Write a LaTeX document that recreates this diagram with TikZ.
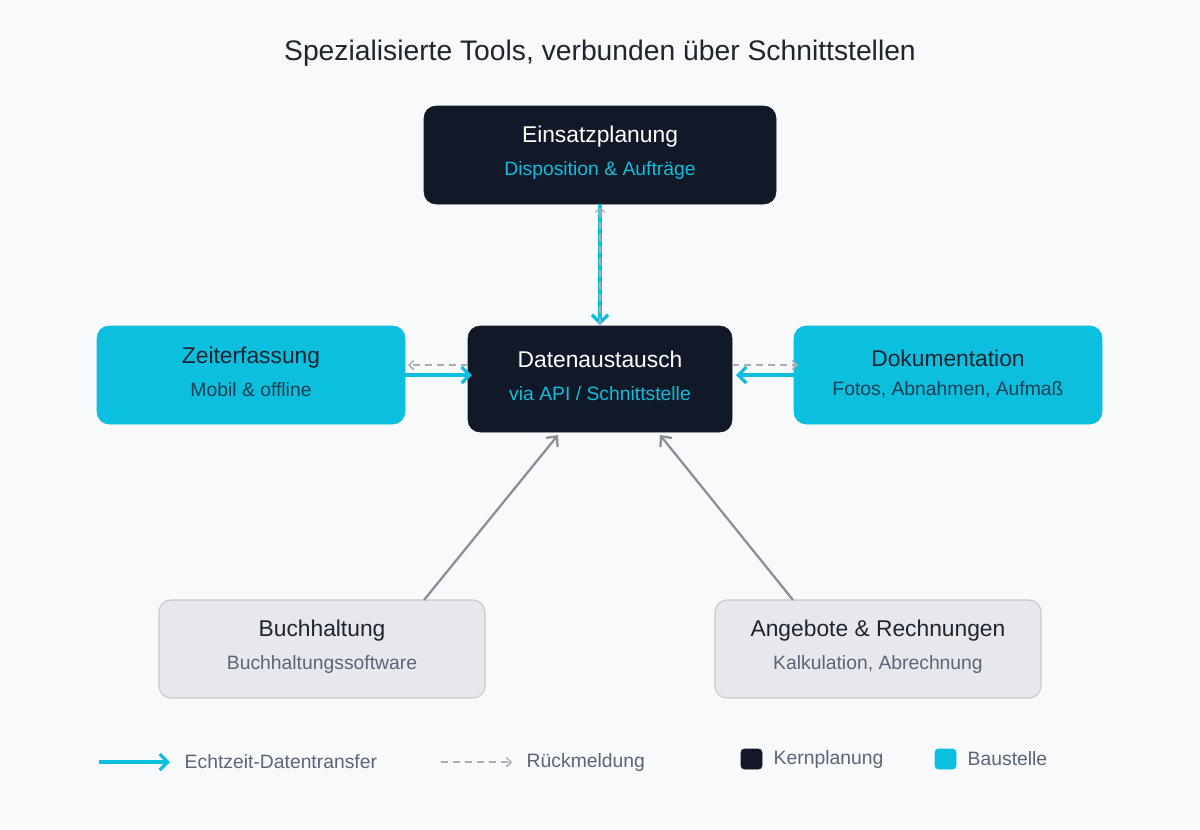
\documentclass[tikz,border=0pt]{standalone}
\usepackage{fontspec}
\setmainfont{Liberation Sans}
\usetikzlibrary{arrows.meta}
\definecolor{bg}{HTML}{F8F9FB}
\definecolor{dark}{HTML}{111827}
\definecolor{cy}{HTML}{0CBFDE}
\definecolor{lg}{HTML}{E7E8EC}
\definecolor{lgb}{HTML}{C6C9D0}
\definecolor{gr}{HTML}{8A8E98}
\definecolor{dg}{HTML}{A9ADB5}
\definecolor{sub}{HTML}{5B6478}
\definecolor{cysub}{HTML}{1E3F52}
\definecolor{ttl}{HTML}{1F2430}
\begin{document}
\begin{tikzpicture}[x=0.75pt,y=-0.75pt,
 box/.style={rounded corners=9pt,inner sep=0pt},
 t1/.style={font=\fontsize{17.1}{19}\selectfont},
 t2/.style={font=\fontsize{14.5}{16}\selectfont},
 cyarrow/.style={draw=cy,line width=2.6pt,-{Straight Barb[length=6pt,width=12pt,line width=2.4pt]}},
 dasharrow/.style={draw=dg,line width=1.1pt,dash pattern=on 5pt off 4pt,-{Straight Barb[length=3.5pt,width=7pt]}},
 grarrow/.style={draw=gr,line width=1.7pt,-{Straight Barb[length=6pt,width=11pt,line width=1.7pt]}}]
\fill[bg] (0,0) rectangle (1200,829);
\useasboundingbox (0,0) rectangle (1200,829);
\node[font=\fontsize{21.2}{24}\selectfont,text=ttl] (title) at (600,53) {Spezialisierte Tools, verbunden über Schnittstellen};
% boxes
\draw[box,fill=dark,draw=dark] (424,106) rectangle (776,204);
\node[t1,text=white] (Et) at (600,137) {Einsatzplanung};
\node[t2,text=cy] (Es) at (600,170) {Disposition \& Aufträge};
\draw[box,fill=dark,draw=dark] (468,326) rectangle (732,432);
\node[t1,text=white] (Dt) at (600,359) {Datenaustausch};
\node[t2,text=cy] (Ds) at (600,394) {via API / Schnittstelle};
\draw[box,fill=cy,draw=cy] (97,326) rectangle (405,424);
\node[t1,text=ttl] (Zt) at (251,358) {Zeiterfassung};
\node[t2,text=cysub] (Zs) at (251,390) {Mobil \& offline};
\draw[box,fill=cy,draw=cy] (794,326) rectangle (1102,424);
\node[t1,text=ttl] (Ot) at (948,358) {Dokumentation};
\node[t2,text=cysub] (Os) at (948,390) {Fotos, Abnahmen, Aufmaß};
\draw[box,fill=lg,draw=lgb,line width=0.8pt] (159,600) rectangle (485,698);
\node[t1,text=ttl] (Bt) at (322,631) {Buchhaltung};
\node[t2,text=sub] (Bs) at (322,664) {Buchhaltungssoftware};
\draw[box,fill=lg,draw=lgb,line width=0.8pt] (715,600) rectangle (1041,698);
\node[t1,text=ttl] (At) at (878,631) {Angebote \& Rechnungen};
\node[t2,text=sub] (As) at (878,664) {Kalkulation, Abrechnung};
% anchor coordinates
\coordinate (Eb) at (600,204); \coordinate (Dtop) at (600,325);
\coordinate (Eb2) at (600,207);
\coordinate (Zr) at (405,375); \coordinate (Dl) at (472,375);
\coordinate (Dl2) at (468,365); \coordinate (Zr2) at (408,365);
\coordinate (Or) at (794,375); \coordinate (Dr) at (736,375);
\coordinate (Dr2) at (732,365); \coordinate (Ol2) at (798,365);
\coordinate (Bn) at (424,600); \coordinate (Dbl) at (558,435);
\coordinate (An) at (793,600); \coordinate (Dbr) at (660,435);
\draw[cyarrow] (Eb) -- (Dtop);
\draw[dasharrow,line width=0.9pt] (Dtop) -- (Eb2);
\draw[dasharrow] (Dl2) -- (Zr2);
\draw[cyarrow] (Zr) -- (Dl);
\draw[dasharrow] (Dr2) -- (Ol2);
\draw[cyarrow] (Or) -- (Dr);
\draw[grarrow] (Bn) -- (Dbl);
\draw[grarrow] (An) -- (Dbr);
% legend
\coordinate (L1a) at (99,762); \coordinate (L1b) at (170,762);
\draw[cyarrow] (L1a) -- (L1b);
\node[t2,text=sub,anchor=west] (L1) at (180,762) {Echtzeit-Datentransfer};
\coordinate (L2a) at (441,762); \coordinate (L2b) at (512,762);
\draw[dasharrow] (L2a) -- (L2b);
\node[t2,text=sub,anchor=west] (L2) at (522,762) {Rückmeldung};
\draw[fill=dark,draw=dark,rounded corners=2.5pt] (741,749) rectangle (762,769);
\node[t2,text=sub,anchor=west] (L3) at (769,759) {Kernplanung};
\draw[fill=cy,draw=cy,rounded corners=2.5pt] (935,749) rectangle (956,769);
\node[t2,text=sub,anchor=west] (L4) at (963,759) {Baustelle};
\end{tikzpicture}
\end{document}
